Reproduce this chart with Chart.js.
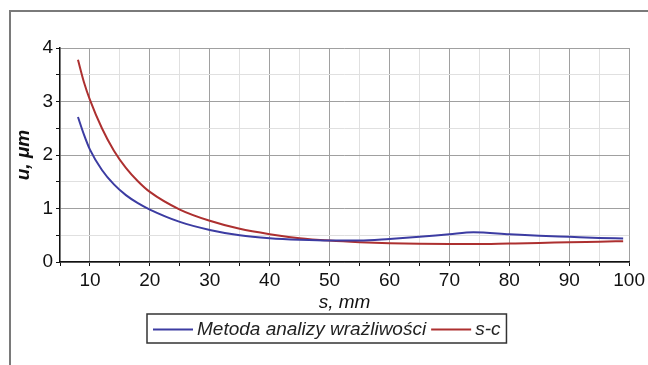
<!DOCTYPE html>
<html>
<head>
<meta charset="utf-8">
<script src="https://cdn.jsdelivr.net/npm/chart.js@4.4.1/dist/chart.umd.min.js"></script>
<style>
    body { margin: 0; background: #fff; }
    #wrap { width: 648px; height: 365px; position: relative; }
</style>
</head>
<body>
<div id="wrap"><canvas id="chart"></canvas></div>
<script>
// s, mm
const sValues = [8, 9, 10, 12, 14, 16, 18, 20, 25, 30, 35, 40, 45, 50, 55, 60, 65, 70, 74, 80, 85, 90, 95, 99]
// u, um
const metodaValues = [2.71, 2.38, 2.10, 1.72, 1.45, 1.25, 1.10, 0.98, 0.75, 0.60, 0.50, 0.445, 0.415, 0.40, 0.40, 0.43, 0.47, 0.52, 0.555, 0.52, 0.49, 0.47, 0.45, 0.44]
const scValues = [3.78, 3.36, 3.03, 2.50, 2.08, 1.76, 1.51, 1.31, 0.98, 0.77, 0.62, 0.52, 0.445, 0.40, 0.37, 0.35, 0.34, 0.335, 0.335, 0.345, 0.355, 0.37, 0.38, 0.39]
const seriesLabels = ['Metoda analizy wrażliwości', 's-c']
const seriesColors = ['#3c3ca2', '#ad3030']

const FONT = '"Liberation Sans", Arial, sans-serif'

function toPoints(ys) {
    return sValues.map((s, i) => ({ x: s, y: ys[i] }))
}

// outer frame + boxed legend, drawn by hand
const framePlugin = {
    id: 'frame',
    afterDraw(chart) {
        const ctx = chart.ctx
        ctx.save()
        ctx.strokeStyle = '#7a7a7a'
        ctx.lineWidth = 2
        ctx.beginPath()
        ctx.moveTo(10, 365)
        ctx.lineTo(10, 11)
        ctx.lineTo(648, 11)
        ctx.stroke()

        // legend
        ctx.font = 'italic 19px ' + FONT
        ctx.textBaseline = 'middle'
        const lineLen = 40, gap = 4, itemGap = 5
        let w = 7
        chart.data.datasets.forEach(ds => {
            w += lineLen + gap + ctx.measureText(ds.label).width + itemGap
        })
        const x0 = 147, y0 = 314, h = 29
        ctx.strokeStyle = '#333'
        ctx.lineWidth = 1.5
        ctx.strokeRect(x0, y0, w, h)
        let x = x0 + 6
        const yc = y0 + h / 2 + 1
        chart.data.datasets.forEach(ds => {
            ctx.strokeStyle = ds.borderColor
            ctx.lineWidth = 2
            ctx.beginPath()
            ctx.moveTo(x, yc)
            ctx.lineTo(x + lineLen, yc)
            ctx.stroke()
            x += lineLen + gap
            ctx.fillStyle = '#222'
            ctx.fillText(ds.label, x, yc)
            x += ctx.measureText(ds.label).width + itemGap
        })
        ctx.restore()
    }
}

new Chart(document.getElementById('chart').getContext('2d'), {
    type: 'line',
    data: {
        datasets: [
            {
                label: seriesLabels[0],
                data: toPoints(metodaValues),
                borderColor: seriesColors[0],
                borderWidth: 2,
                pointRadius: 0,
                cubicInterpolationMode: 'monotone'
            },
            {
                label: seriesLabels[1],
                data: toPoints(scValues),
                borderColor: seriesColors[1],
                borderWidth: 2,
                pointRadius: 0,
                cubicInterpolationMode: 'monotone'
            }
        ]
    },
    options: {
        responsive: true,
        maintainAspectRatio: false,
        animation: false,
        layout: { padding: { left: 12, top: 48, right: 18, bottom: 51 } },
        plugins: {
            legend: { display: false },
            tooltip: { enabled: false }
        },
        scales: {
            x: {
                type: 'linear',
                min: 5,
                max: 100,
                border: { color: '#111', width: 1.5 },
                grid: {
                    color: ctx => (ctx.tick && ctx.tick.value % 10 === 0) ? '#a0a0a0' : '#e0e0e0',
                    tickColor: '#111',
                    tickLength: 4
                },
                ticks: {
                    stepSize: 5,
                    color: '#111',
                    font: { family: FONT, size: 19 },
                    padding: 3,
                    maxRotation: 0,
                    autoSkip: false,
                    callback: v => (v % 10 === 0 ? v : '')
                },
                title: {
                    display: true,
                    text: 's, mm',
                    color: '#111',
                    font: { family: FONT, size: 19, style: 'italic' },
                    padding: { top: 0, bottom: 0 }
                },
                afterFit: scale => { scale.height = 52 }
            },
            y: {
                min: 0,
                max: 4,
                border: { color: '#111', width: 1.5 },
                grid: {
                    color: ctx => (ctx.tick && ctx.tick.value % 1 === 0) ? '#a0a0a0' : '#e0e0e0',
                    tickColor: '#111',
                    tickLength: 4
                },
                ticks: {
                    stepSize: 0.5,
                    color: '#111',
                    font: { family: FONT, size: 19 },
                    padding: 3,
                    autoSkip: false,
                    callback: v => (v % 1 === 0 ? v : '')
                },
                title: {
                    display: true,
                    text: 'u, μm',
                    color: '#111',
                    font: { family: FONT, size: 19, style: 'italic', weight: 'bold' },
                    padding: { top: 0, bottom: 2 }
                },
                afterFit: scale => { scale.width = 48 }
            }
        }
    },
    plugins: [framePlugin]
});
</script>
</body>
</html>
